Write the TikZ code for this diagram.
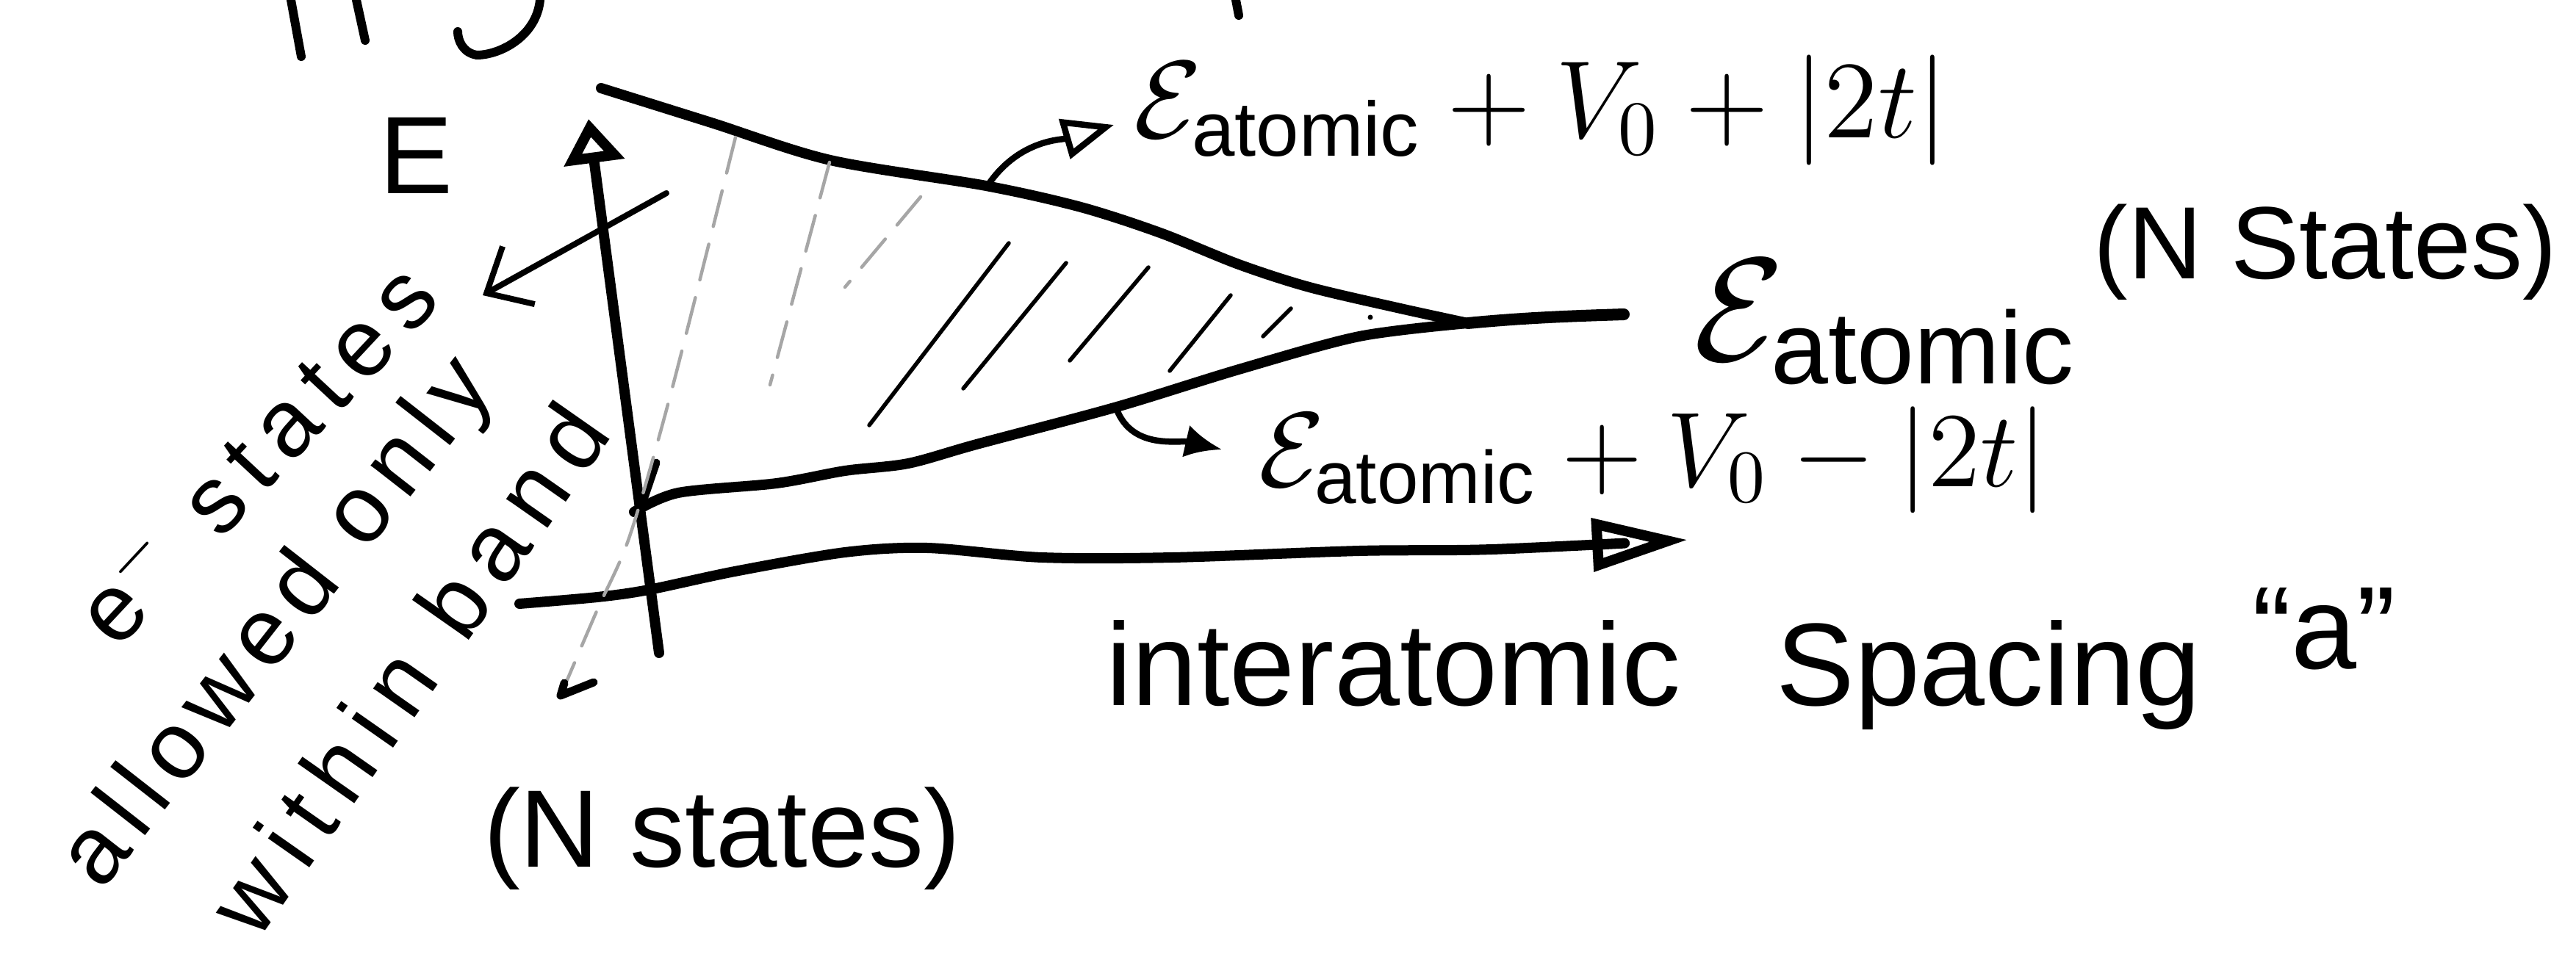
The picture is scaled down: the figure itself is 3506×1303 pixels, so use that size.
\RequirePackage{fix-cm}
\documentclass[tikz,border=0pt]{standalone}
\usepackage{fontspec}
\setmainfont{Liberation Sans}
\usetikzlibrary{arrows.meta}
\begin{document}
\begin{tikzpicture}[x=0.1pt,y=-0.1pt,line cap=round,line join=round,
  ink/.style={line width=1.4pt},
  thinink/.style={line width=0.85pt},
  hatch/.style={line width=0.55pt},
  faint/.style={line width=0.45pt,black!35,dash pattern=on 5pt off 2.5pt},
  lbl/.style={inner sep=0pt,font=\fontsize{#1}{#1}\selectfont},
  slant/.style={inner sep=0pt,font=\fontsize{13pt}{13pt}\selectfont\addfontfeatures{LetterSpace=#1}},
]
\useasboundingbox (0,0) rectangle (3506,1303);

% --- text labels
\node[lbl=15pt] (E) at (567,212) {E};
\node[slant=15,rotate=47] (es) at (345,615) {e\(^{-}\) states};
\node[slant=12,rotate=52] (ao) at (380,850) {allowed only};
\node[slant=16,rotate=55] (wb) at (555,910) {within band};
\node[lbl=15pt,anchor=base west] (top) at (1541,188) {$\mathcal{E}_{\mathrm{atomic}}+V_0+|2t|$};
\node[lbl=14.5pt,anchor=base west] (low) at (1711,662) {$\mathcal{E}_{\mathrm{atomic}}+V_0-|2t|$};
\node[lbl=20pt,anchor=base west] (mid) at (2303,490) {$\mathcal{E}_{\mathrm{atomic}}$};
\node[lbl=14pt,anchor=base east] (ns1) at (3482,380) {(N States)};
\node[lbl=15pt,anchor=base west] (ns2) at (656,1180) {(N states)};
\node[lbl=16pt,anchor=base west] (xl) at (1503,960) {interatomic\hspace{13pt}Spacing\hspace{7pt}\raisebox{5pt}{“a”}};

% --- cut-off strokes at the top edge
\draw[line width=1.2pt] (396,0) -- (410,77);
\draw[line width=1.2pt] (485,0) -- (497,55);
\draw[line width=1.2pt] (735,0) .. controls (730,50) and (680,75) .. (649,75) .. controls (630,72) and (623,55) .. (623,43);
\draw[line width=1.2pt] (1682,0) -- (1686,21);

% --- axes
\coordinate (v0) at (897,889);
\coordinate (v1) at (801,162);
\draw[ink,-{Triangle[open,length=6pt,width=8pt]}] (v0) -- (v1);
\coordinate (h0) at (707,822);
\coordinate (h1) at (2297,735);
\draw[ink,-{Triangle[open,length=13pt,width=7pt]}] plot[smooth] coordinates {(h0) (813,813) (883,803) (1000,778) (1150,752) (1262,746) (1418,759) (1596,759) (1850,750) (2031,748) (h1)};

% --- band edges
\coordinate (cusp) at (1998,440);
\coordinate (ctail) at (2210,428);
\draw[ink] plot[smooth] coordinates {(818,120) (968,167) (1130,218) (1342,253) (1471,282) (1579,317) (1686,360) (1782,391) (1906,420) (cusp)};
\draw[ink] plot[smooth] coordinates {(863,697) (923,671) (1057,658) (1150,641) (1236,631) (1329,605) (1520,554) (1686,503) (1850,458) (cusp)};
\draw[line width=1.6pt] (cusp) .. controls (2080,432) and (2150,430) .. (ctail);
\draw[line width=1.1pt] (893,630) -- (877,677);

% --- hatching
\draw[hatch] (1373,331) -- (1183,579);
\draw[hatch] (1451,358) -- (1311,529);
\draw[hatch] (1563,364) -- (1456,491);
\draw[hatch] (1675,402) -- (1592,505);
\draw[hatch] (1757,420) -- (1719,458);
\fill (1865,432) circle (0.35pt);
\draw[faint] (1129,221) -- (1048,524);
\draw[faint] (1253,268) -- (1150,391);
\draw[faint] plot[smooth] coordinates {(1001,187) (914,532) (857,730) (813,830) (768,935)};
\draw[line width=1.1pt] (768,930) -- (763,947) -- (808,929);

% --- label connectors
\coordinate (ua) at (1346,250);
\coordinate (ut) at (1516,170);
\draw[thinink,-{Triangle[open,length=7pt,width=5.5pt]}] (ua) to[out=55,in=196] (ut);
\coordinate (la) at (1520,558);
\coordinate (lt) at (1663,612);
\draw[thinink,-{Latex[length=5pt,width=4.5pt]}] (la) to[out=-68,in=167] (lt);
\coordinate (ba) at (907,263);
\coordinate (bt) at (657,402);
\draw[line width=0.8pt,-{Straight Barb[length=5pt,width=9pt]}] (ba) -- (bt);
\end{tikzpicture}
\end{document}
